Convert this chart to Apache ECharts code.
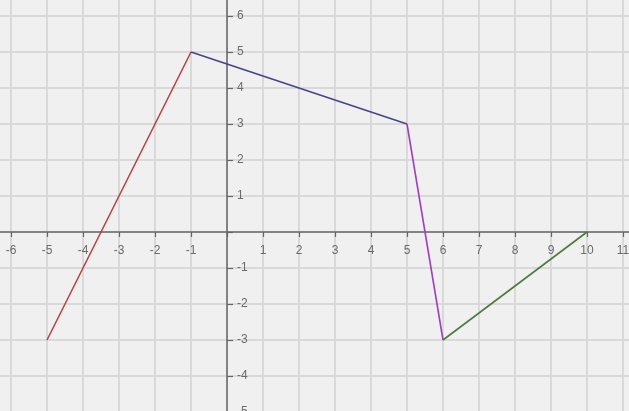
<!DOCTYPE html>
<html>
<head>
<meta charset="utf-8">
<script src="https://cdn.jsdelivr.net/npm/echarts@6/dist/echarts.min.js"></script>
<style>html,body{margin:0;padding:0;background:#f0f0f0;overflow:hidden;}#c{width:629px;height:411px;}</style>
</head>
<body>
<div id="c"></div>
<script>
// Segment endpoints [x, y]
var redSeg = [[-5, -3], [-1, 5]];
var blueSeg = [[-1, 5], [5, 3]];
var purpleSeg = [[5, 3], [6, -3]];
var greenSeg = [[6, -3], [10, 0]];
var xRange = [-7, 12];
var yRange = [-6, 7];

var chart = echarts.init(document.getElementById('c'), null, {renderer: 'canvas'});
function seg(data, color) {
  return {type: 'line', data: data, symbol: 'none', silent: true,
    lineStyle: {color: color, width: 1.6}, z: 5};
}
var lblFmt = function (v) { return v === 0 ? '' : String(v); };
chart.setOption({
  backgroundColor: '#f0f0f0',
  animation: false,
  grid: {left: -25, right: -30, top: -20, bottom: -37, containLabel: false, outerBoundsMode: 'none'},
  xAxis: {
    type: 'value', min: xRange[0], max: xRange[1], interval: 1,
    position: 'bottom', offset: -216,
    axisLine: {onZero: false, lineStyle: {color: '#666', width: 1.5}},
    axisTick: {show: true, length: 5, lineStyle: {color: '#666', width: 1.2}},
    axisLabel: {formatter: lblFmt, color: '#6a6a6a', fontSize: 12, fontFamily: 'Liberation Sans', margin: 13, hideOverlap: false},
    splitLine: {show: true, lineStyle: {color: '#d9d9d9', width: 2}}
  },
  yAxis: {
    type: 'value', min: yRange[0], max: yRange[1], interval: 1,
    position: 'left', offset: -252,
    axisLine: {onZero: false, lineStyle: {color: '#666', width: 1.5}},
    axisTick: {show: true, inside: true, length: 6, lineStyle: {color: '#666', width: 1.2}},
    axisLabel: {inside: true, formatter: lblFmt, color: '#6a6a6a', fontSize: 12, fontFamily: 'Liberation Sans', margin: 10, hideOverlap: false},
    splitLine: {show: true, lineStyle: {color: '#d9d9d9', width: 2}}
  },
  series: [
    seg(redSeg, '#b5403f'),
    seg(blueSeg, '#44448f'),
    seg(purpleSeg, '#9e3fc0'),
    seg(greenSeg, '#4d7b3d')
  ]
});
</script>
</body>
</html>
